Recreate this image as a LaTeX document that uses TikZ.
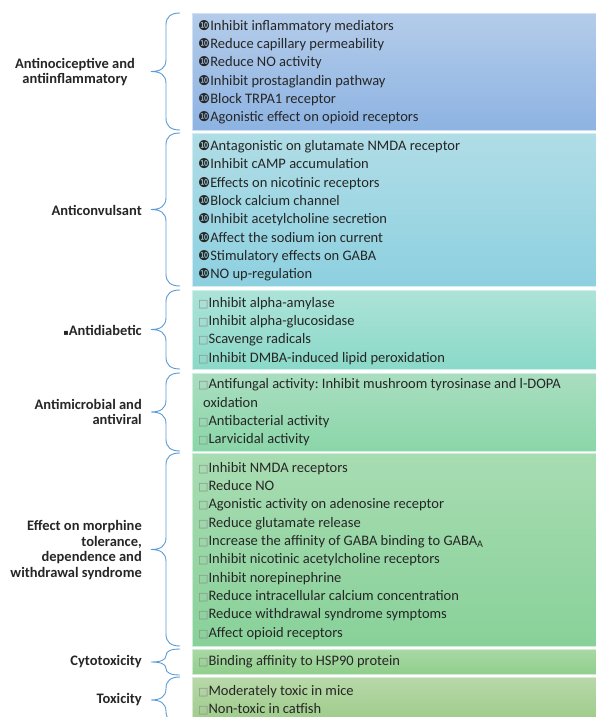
\documentclass[tikz,border=0pt]{standalone}
\usepackage{fontspec}
\setmainfont{Carlito}
\newfontfamily\dv{DejaVu Sans}
\frenchspacing
\definecolor{txt}{HTML}{262626}
\definecolor{brc}{HTML}{5B9BD5}
\definecolor{ta}{HTML}{B4CCEA}\definecolor{ba}{HTML}{8DB3E2}
\definecolor{tb}{HTML}{B0DDE6}\definecolor{bb}{HTML}{8DD0E0}
\definecolor{tc}{HTML}{ADE3D9}\definecolor{bc}{HTML}{8AD9C8}
\definecolor{td}{HTML}{A9DEC0}\definecolor{bd}{HTML}{8AD6A8}
\definecolor{te}{HTML}{A8DCB2}\definecolor{be}{HTML}{88D199}
\definecolor{tf}{HTML}{A9D8A4}\definecolor{bf}{HTML}{8FCF8C}
\definecolor{tg}{HTML}{B8D8A9}\definecolor{bg}{HTML}{9CCB88}
\newcommand\tn{{\dv\fontsize{13.5}{13.5}\selectfont ❿}}
\newcommand\sq{{\color{black!45}\dv\fontsize{11}{11}\selectfont □}}
\newcommand\mybrace[2]{%
 \pgfmathsetmacro\bt{#1}\pgfmathsetmacro\bb{#2}%
 \pgfmathsetmacro\bm{(#1+#2)/2}%
 \pgfmathsetmacro\br{min(12,(#2-#1)/4)}%
 \draw[bracestyle] (180,\bt) .. controls (171,\bt) and (166,\bt+\br*0.3) .. (166,\bt+\br) -- (166,\bm-\br) .. controls (166,\bm-\br*0.25) and (160,\bm) .. (151,\bm) .. controls (160,\bm) and (166,\bm+\br*0.25) .. (166,\bm+\br) -- (166,\bb-\br) .. controls (166,\bb-\br*0.3) and (171,\bb) .. (180,\bb);}
\tikzset{
 box/.style 2 args={rectangle, anchor=north west, minimum width=410pt, inner sep=0pt, draw=white!60!#2, line width=0.7pt, top color=#1, bottom color=#2},
 items/.style={anchor=west, align=left, inner sep=0pt, text=txt, font=\fontsize{14.5}{18.3}\selectfont},
 lab/.style={inner sep=0pt, text=txt, font=\bfseries\fontsize{14.5}{15.8}\selectfont},
 bracestyle/.style={draw=brc, line width=0.9pt},
}
\begin{document}
\begin{tikzpicture}[x=1pt,y=-1pt]
\useasboundingbox (0,0) rectangle (595,717);
% boxes
\node[box={ta}{ba}, minimum height=117pt] (b1) at (192,13) {};
\node[box={tb}{bb}, minimum height=153pt] (b2) at (192,133) {};
\node[box={tc}{bc}, minimum height=79pt] (b3) at (192,290) {};
\node[box={td}{bd}, minimum height=78pt] (b4) at (192,373) {};
\node[box={te}{be}, minimum height=193pt] (b5) at (192,453) {};
\node[box={tf}{bf}, minimum height=25pt] (b6) at (192,649) {};
\node[box={tg}{bg}, minimum height=46pt] (b7) at (192,677) {};
% item texts
\node[items] (t1) at ([xshift=6pt,yshift=-0.5pt]b1.west) {\tn Inhibit inflammatory mediators\\ \tn Reduce capillary permeability\\ \tn Reduce NO activity\\ \tn Inhibit prostaglandin pathway\\ \tn Block TRPA1 receptor\\ \tn Agonistic effect on opioid receptors};
\node[items] (t2) at ([xshift=6pt,yshift=-1pt]b2.west) {\tn Antagonistic on glutamate NMDA receptor\\ \tn Inhibit cAMP accumulation\\ \tn Effects on nicotinic receptors\\ \tn Block calcium channel\\ \tn Inhibit acetylcholine secretion\\ \tn Affect the sodium ion current\\ \tn Stimulatory effects on GABA\\ \tn NO up-regulation};
\node[items] (t3) at ([xshift=6pt,yshift=-1pt]b3.west) {\sq Inhibit alpha-amylase\\ \sq Inhibit alpha-glucosidase\\ \sq Scavenge radicals\\ \sq Inhibit DMBA-induced lipid peroxidation};
\node[items] (t4) at ([xshift=6pt,yshift=0pt]b4.west) {\sq Antifungal activity: Inhibit mushroom tyrosinase and l-DOPA\\ \hspace*{5pt}oxidation\\ \sq Antibacterial activity\\ \sq Larvicidal activity};
\node[items] (t5) at ([xshift=6pt,yshift=-1pt]b5.west) {\sq Inhibit NMDA receptors\\ \sq Reduce NO\\ \sq Agonistic activity on adenosine receptor\\ \sq Reduce glutamate release\\ \sq Increase the affinity of GABA binding to GABA\textsubscript{A}\\ \sq Inhibit nicotinic acetylcholine receptors\\ \sq Inhibit norepinephrine\\ \sq Reduce intracellular calcium concentration\\ \sq Reduce withdrawal syndrome symptoms\\ \sq Affect opioid receptors};
\node[items] (t6) at ([xshift=6pt,yshift=0pt]b6.west) {\sq Binding affinity to HSP90 protein};
\node[items] (t7) at ([xshift=6pt]192,700) {\sq Moderately toxic in mice\\ \sq Non-toxic in catfish};
% labels
\node[lab, align=center] (l1) at (75,72) {Antinociceptive and\\antiinflammatory};
\node[lab, anchor=east] (l2) at (142,210) {Anticonvulsant};
\node[lab, anchor=east] (l3) at (142,330) {{\dv\fontsize{8}{8}\selectfont ▪}Antidiabetic};
\node[lab, anchor=east, align=right] (l4) at (142,412) {Antimicrobial and\\antiviral};
\node[lab, anchor=east, align=right] (l5) at (142,550) {Effect on morphine\\tolerance,\\dependence and\\withdrawal syndrome};
\node[lab, anchor=east] (l6) at (142,662) {Cytotoxicity};
\node[lab, anchor=east] (l7) at (142,700) {Toxicity};
% braces
\mybrace{13}{130}
\mybrace{133}{286}
\mybrace{290}{369}
\mybrace{373}{451}
\mybrace{453}{646}
\mybrace{649}{675}
\mybrace{677}{723}
\end{tikzpicture}
\end{document}
